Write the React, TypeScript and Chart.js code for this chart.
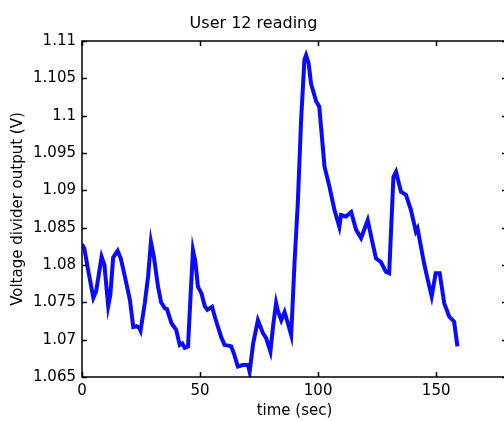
import React, { useEffect, useRef } from "react";
import { Chart, registerables } from "chart.js";

Chart.register(...registerables);

const chartTitle = "User 12 reading";
const xAxisTitle = "time (sec)";
const yAxisTitle = "Voltage divider output (V)";

const timeSec = [
  0, 1, 2.5, 4.8, 6, 8.3, 9.5, 11.1, 12, 13.2, 15.1, 16.5, 18.2, 20.3, 21.7, 23,
  24.2, 24.8, 26.6, 28, 29.2, 30.5, 32.2, 33.5, 35.1, 36, 37.9, 39.9, 41.4, 42.5,
  43.5, 44.9, 46, 47, 48, 49.1, 50.6, 52, 53.1, 55.1, 56.5, 57.6, 59, 60.4, 62,
  63.2, 64.5, 66, 68.1, 70.3, 71, 72.5, 74.5, 75.5, 76.6, 78, 79.8, 81, 82.2, 83,
  84.4, 85.8, 87.2, 88.6, 90, 91.4, 92.8, 94.2, 94.9, 96, 97, 99.2, 100.5, 102.7,
  104.8, 106.9, 109, 109.7, 111.8, 114, 116.1, 118.2, 121, 123.1, 124.5, 126.6,
  128.7, 130.1, 131.9, 133, 135.1, 137.2, 139.3, 141.4, 142.1, 144.9, 146.3,
  148.1, 149.8, 151.5, 153.4, 155.5, 157.6, 159,
];

const voltage = [
  1.0828, 1.0822, 1.0795, 1.0756, 1.0765, 1.0811, 1.08, 1.0745, 1.076, 1.081,
  1.0819, 1.0808, 1.0784, 1.0753, 1.0717, 1.0718, 1.0716, 1.0712, 1.0749, 1.0785,
  1.0831, 1.081, 1.0771, 1.075, 1.0742, 1.0741, 1.0722, 1.0713, 1.0693, 1.0695,
  1.0689, 1.0691, 1.076, 1.082, 1.0805, 1.0771, 1.0762, 1.0745, 1.074, 1.0744,
  1.0728, 1.0717, 1.0703, 1.0693, 1.0692, 1.0691, 1.068, 1.0664, 1.0666, 1.0666,
  1.0657, 1.0695, 1.0726, 1.0718, 1.0709, 1.0702, 1.0684, 1.072, 1.0749, 1.0738,
  1.0726, 1.0737, 1.0722, 1.0706, 1.0802, 1.0883, 1.0994, 1.1075, 1.1081, 1.107,
  1.1043, 1.1019, 1.1012, 1.0932, 1.0905, 1.0874, 1.0851, 1.0867, 1.0865, 1.0871,
  1.0847, 1.0836, 1.086, 1.0829, 1.0809, 1.0804, 1.0791, 1.0789, 1.0918, 1.0925,
  1.0898, 1.0894, 1.0874, 1.0845, 1.0849, 1.0802, 1.0782, 1.0758, 1.0789, 1.0789,
  1.0749, 1.0731, 1.0724, 1.0691,
];

const xMin = 0;
const xMax = 180;
const yMin = 1.065;
const yMax = 1.11;
const xTicks = [0, 50, 100, 150];
const yTicks = [1.065, 1.07, 1.075, 1.08, 1.085, 1.09, 1.095, 1.1, 1.105, 1.11];
const yTickLabels = ["1.065", "1.07", "1.075", "1.08", "1.085", "1.09", "1.095", "1.1", "1.105", "1.11"];

const FONT = "'DejaVu Sans', sans-serif";

const framePlugin = {
  id: "matlabFrame",
  afterDraw(chart: any) {
    const { ctx, chartArea: a, scales } = chart;
    ctx.save();
    ctx.strokeStyle = "#000";
    ctx.lineWidth = 1.5;
    ctx.strokeRect(a.left, a.top, a.right - a.left, a.bottom - a.top);
    const L = 5;
    ctx.beginPath();
    for (const v of xTicks) {
      const x = Math.round(scales.x.getPixelForValue(v)) + 0.5;
      ctx.moveTo(x, a.bottom);
      ctx.lineTo(x, a.bottom - L);
      ctx.moveTo(x, a.top);
      ctx.lineTo(x, a.top + L);
    }
    for (const v of yTicks) {
      const y = Math.round(scales.y.getPixelForValue(v)) + 0.5;
      ctx.moveTo(a.left, y);
      ctx.lineTo(a.left + L, y);
      ctx.moveTo(a.right, y);
      ctx.lineTo(a.right - L, y);
    }
    ctx.stroke();
    ctx.restore();
  },
};

export default function App() {
  const canvasRef = useRef<HTMLCanvasElement | null>(null);

  useEffect(() => {
    if (!canvasRef.current) return;
    const data = timeSec.map((t, i) => ({ x: t, y: voltage[i] }));
    const chart = new Chart(canvasRef.current, {
      type: "line",
      data: {
        datasets: [
          {
            data,
            borderColor: "#0a0aff",
            borderWidth: 4,
            pointRadius: 0,
            tension: 0,
            fill: false,
          },
        ],
      },
      options: {
        animation: false,
        responsive: false,
        layout: { padding: { left: 0, right: 5, top: 0, bottom: 0 } },
        plugins: {
          legend: { display: false },
          tooltip: { enabled: false },
          title: {
            display: true,
            text: chartTitle,
            color: "#000",
            font: { family: FONT, size: 16, weight: "normal" },
            padding: { top: 14, bottom: 7.8 },
          },
        },
        scales: {
          x: {
            type: "linear",
            min: xMin,
            max: xMax,
            grid: { display: false, drawTicks: false },
            border: { display: false },
            afterBuildTicks: (s: any) => {
              s.ticks = xTicks.map((value) => ({ value }));
            },
            afterFit: (s: any) => {
              s.height = 44;
            },
            ticks: {
              color: "#000",
              font: { family: FONT, size: 15 },
              padding: 5,
              maxRotation: 0,
              autoSkip: false,
            },
            title: {
              display: true,
              text: xAxisTitle,
              color: "#000",
              font: { family: FONT, size: 15 },
              padding: { top: 1, bottom: 1 },
            },
          },
          y: {
            type: "linear",
            min: yMin,
            max: yMax,
            grid: { display: false, drawTicks: false },
            border: { display: false },
            afterBuildTicks: (s: any) => {
              s.ticks = yTicks.map((value) => ({ value }));
            },
            afterFit: (s: any) => {
              s.width = 82;
            },
            ticks: {
              color: "#000",
              font: { family: FONT, size: 15 },
              padding: 6,
              autoSkip: false,
              callback: (_v: any, i: number) => yTickLabels[i],
            },
            title: {
              display: true,
              text: yAxisTitle,
              color: "#000",
              font: { family: FONT, size: 15 },
              padding: { top: 9, bottom: 0 },
            },
          },
        },
      },
      plugins: [framePlugin],
    });
    return () => chart.destroy();
  }, []);

  return (
    <div
      style={{
        position: "fixed",
        left: 0,
        top: 0,
        width: 504,
        height: 421,
        overflow: "hidden",
        background: "#fff",
      }}
    >
      <canvas ref={canvasRef} width={512} height={421} style={{ display: "block" }} />
    </div>
  );
}
